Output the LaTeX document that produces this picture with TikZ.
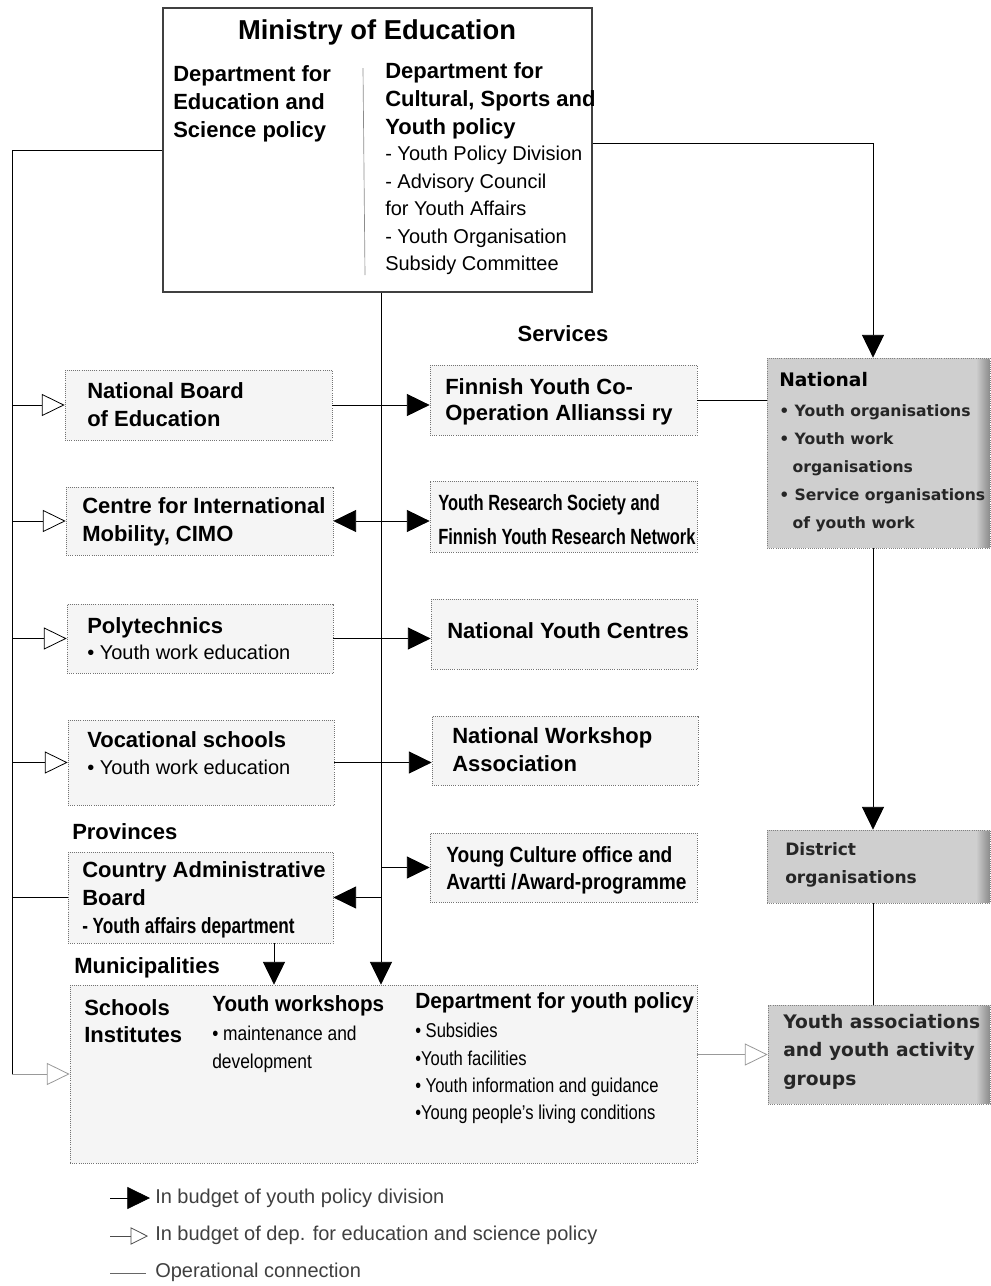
\documentclass[tikz,border=0pt]{standalone}
\usepackage{fontspec}
\setmainfont{Liberation Sans}
\newfontfamily\dvfont{DejaVu Sans}
\usetikzlibrary{arrows.meta,fit,calc}
\tikzset{
  lbox/.style={draw=black!55, densely dotted, line width=0.6pt, fill=black!4, inner sep=0pt},
  topbox/.style={draw=black!75, line width=0.8pt, fill=white, inner sep=0pt},
  rbox/.style={draw=black!50, densely dotted, line width=0.6pt, fill=black!19, inner sep=0pt},
  txt/.style={anchor=north west, inner sep=0pt, align=left, text=black},
  hdtext/.style={font=\fontsize{16.5}{21}\selectfont\bfseries},
  lttext/.style={font=\fontsize{15}{20.6}\selectfont},
  rtext/.style={font=\dvfont\fontsize{11.7}{21}\selectfont\bfseries, text=black!85},
  conn/.style={draw=black, line width=0.6pt},
  fa/.style={conn, -{Triangle[length=17pt,width=16.5pt]}},
  fab/.style={conn, {Triangle[length=17pt,width=16.5pt]}-{Triangle[length=17pt,width=16.5pt]}},
  oa/.style={conn, -{Triangle[open,length=17pt,width=16.5pt,fill=white]}},
  oasmall/.style={conn, -{Triangle[open,length=13pt,width=13pt,fill=white]}},
}
\begin{document}
\begin{tikzpicture}[x=0.75pt,y=-0.75pt]
\useasboundingbox[fill=white] (0,0) rectangle (991,1286);

% ---------- top box ----------
\node[topbox, fit={(163,8)(592,292)}] (min) {};
\draw[black!45, line width=0.5pt] (363,68) -- (365,275);
\node[txt, anchor=north, font=\fontsize{20.5}{24}\selectfont\bfseries] (tmin) at (377,19) {Ministry of Education};
\node[txt, hdtext] (tdes) at (173,65) {Department for\\Education and\\Science policy};
\node[txt, hdtext] (tdcs) at (385,62) {Department for\\Cultural, Sports and\\Youth policy};
\node[txt, lttext] (tdcs2) at (385,146) {- Youth Policy Division\\- Advisory Council\\for Youth Affairs\\- Youth Organisation\\Subsidy Committee};

\node[txt, anchor=north, hdtext] (tsv) at (563,325) {Services};

% ---------- left column ----------
\node[lbox, fit={(65,370)(332,440)}] (nb) {};
\node[txt, hdtext] (tnb) at (87,382) {National Board\\of Education};
\node[lbox, fit={(66,487)(333,555)}] (cimo) {};
\node[txt, hdtext] (tcimo) at (82,497) {Centre for International\\Mobility, CIMO};
\node[lbox, fit={(67,604)(333,673)}] (poly) {};
\node[txt, hdtext] (tpoly) at (87,617) {Polytechnics};
\node[txt, lttext] (tpoly2) at (87,645) {• Youth work education};
\node[lbox, fit={(68,720)(334,805)}] (voc) {};
\node[txt, hdtext] (tvoc) at (87,731) {Vocational schools};
\node[txt, lttext] (tvoc2) at (87,760) {• Youth work education};

\node[txt, hdtext] (tprov) at (72,823) {Provinces};
\node[lbox, fit={(68,852)(333,943)}] (cab) {};
\node[txt, hdtext] (tcab) at (82,861) {Country Administrative\\Board};
\node[txt, hdtext] (tcab2) at (82,917) {\scalebox{0.78}[1]{- Youth affairs department}};

\node[txt, hdtext] (tmun) at (74,957) {Municipalities};
\node[lbox, fit={(70,985)(697,1163)}] (bot) {};
\node[txt, hdtext, font=\fontsize{16.5}{20.5}\selectfont\bfseries] (tsch) at (84,999) {Schools\\Institutes};
\node[txt, hdtext] (tyw) at (212,995) {\scalebox{0.94}[1]{Youth workshops}};
\node[txt, lttext] (tyw2) at (212,1026) {\scalebox{0.87}[1]{• maintenance and}\\\scalebox{0.87}[1]{development}};
\node[txt, hdtext] (tdyp) at (415,992) {\scalebox{0.95}[1]{Department for youth policy}};
\node[txt, lttext, font=\fontsize{15}{20.5}\selectfont] (tdyp2) at (415,1023) {\scalebox{0.83}[1]{• Subsidies}\\\scalebox{0.83}[1]{•Youth facilities}\\\scalebox{0.83}[1]{• Youth information and guidance}\\\scalebox{0.83}[1]{•Young people’s living conditions}};

% ---------- middle column ----------
\node[lbox, fit={(430,365)(697,435)}] (fy) {};
\node[txt, hdtext, font=\fontsize{16.5}{20}\selectfont\bfseries] (tfy) at (445,378) {Finnish Youth Co-\\Operation Allianssi ry};
\node[lbox, fit={(430,481)(697,552)}] (yr) {};
\node[txt, font=\fontsize{16.5}{25.5}\selectfont\bfseries] (tyr) at (438,494) {\scalebox{0.75}[1]{Youth Research Society and}\\\scalebox{0.75}[1]{Finnish Youth Research Network}};
\node[lbox, fit={(431,599)(697,669)}] (nyc) {};
\node[txt, hdtext] (tnyc) at (447,622) {National Youth Centres};
\node[lbox, fit={(432,716)(698,785)}] (nwa) {};
\node[txt, hdtext] (tnwa) at (452,727) {National Workshop\\Association};
\node[lbox, fit={(430,833)(697,902)}] (yc) {};
\node[txt, font=\fontsize{16.5}{20.3}\selectfont\bfseries] (tyc) at (446,846) {\scalebox{0.87}[1]{Young Culture office and}\\\scalebox{0.87}[1]{Avartti /Award-programme}};

% ---------- right column ----------
\node[rbox, fit={(767,358)(990,548)}] (nat) {};
\shade[left color=black!19, right color=black!45] (976,359) rectangle (989.5,547.5);
\node[txt, font=\dvfont\fontsize{14}{21}\selectfont\bfseries] (tnat) at (779,372) {National};
\node[txt, rtext] (tnat2) at (779,404) {• Youth organisations\\• Youth work\\\hspace*{10pt}organisations\\• Service organisations\\\hspace*{10pt}of youth work};
\node[rbox, fit={(767,830)(990,903)}] (dist) {};
\shade[left color=black!19, right color=black!45] (976,831) rectangle (989.5,902.5);
\node[txt, font=\dvfont\fontsize{12.8}{21}\selectfont\bfseries, text=black!85] (tdist) at (785,842) {District\\organisations};
\node[rbox, fit={(768,1005)(990,1104)}] (ya) {};
\shade[left color=black!19, right color=black!45] (976,1006) rectangle (989.5,1103.5);
\node[txt, font=\dvfont\fontsize{14}{21.3}\selectfont\bfseries, text=black!85] (tya) at (783,1014) {Youth associations\\and youth activity\\groups};

% ---------- connectors ----------
\coordinate (ltop) at (12,150);
\coordinate (lbot) at (12,1074);
\coordinate (cx) at (381,0);
\coordinate (cw) at (274,0);
\coordinate (rx) at (873,143);

\draw[conn] (min.west) -- (ltop) -- (lbot);
\draw[oa, draw=black!40] (lbot) -- (bot.west);
\draw[oa] (ltop |- nb.west) -- (nb.west);
\draw[oa] (ltop |- cimo.west) -- (cimo.west);
\draw[oa] (ltop |- poly.west) -- (poly.west);
\draw[oa] (ltop |- voc.west) -- (voc.west);
\draw[conn] (ltop |- cab.west) -- (cab.west);

\draw[fa] (min.south -| cx) -- (bot.north -| cx);
\draw[fa] (nb.east) -- (fy.west |- nb.east);
\draw[fab] (cimo.east) -- (yr.west |- cimo.east);
\draw[fa] (poly.east) -- (nyc.west |- poly.east);
\draw[fa] (voc.east) -- (nwa.west |- voc.east);
\draw[fa] (cx |- yc.west) -- (yc.west);
\draw[fa] (cx |- cab.east) -- (cab.east);
\draw[fa] (cab.south -| cw) -- (bot.north -| cw);

\draw[fa] (min.east |- rx) -- (rx) -- (rx |- nat.north);
\draw[conn] (fy.east) -- (nat.west |- fy.east);
\draw[fa] (nat.south -| rx) -- (dist.north -| rx);
\draw[conn] (dist.south -| rx) -- (ya.north -| rx);
\draw[oa, draw=black!40] (bot.east |- ya.west) -- (ya.west);

% ---------- legend ----------
\coordinate (la1) at (110,1198);
\coordinate (lb1) at (150,1198);
\coordinate (la2) at (110,1236);
\coordinate (lb2) at (148,1236);
\coordinate (la3) at (110,1273);
\coordinate (lb3) at (146,1273);
\draw[fa] (la1) -- (lb1);
\draw[oasmall, draw=black!70] (la2) -- (lb2);
\draw[conn, draw=black!60] (la3) -- (lb3);
\node[anchor=west, inner sep=0pt, lttext, text=black!75] (lg1) at (155,1198) {In budget of youth policy division};
\node[anchor=west, inner sep=0pt, lttext, text=black!75] (lg2) at (155,1235) {In budget of dep. for education and science policy};
\node[anchor=west, inner sep=0pt, lttext, text=black!75] (lg3) at (155,1272) {Operational connection};
\end{tikzpicture}
\end{document}
